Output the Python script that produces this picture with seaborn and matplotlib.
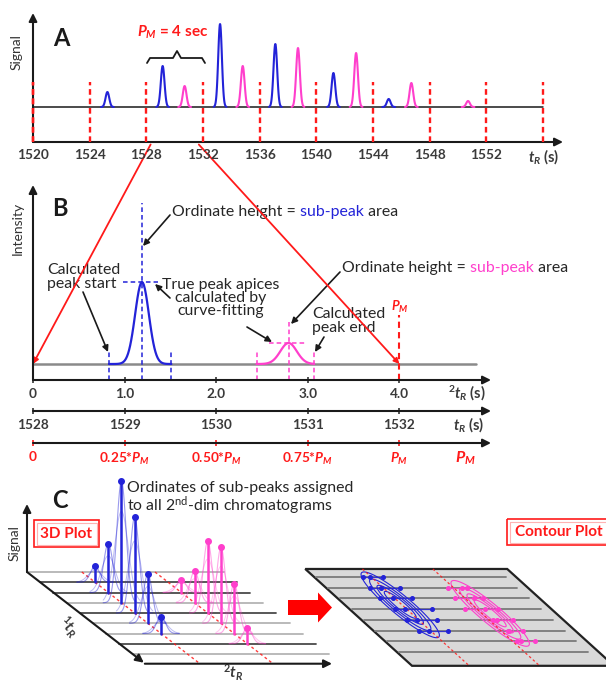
import numpy as np
import pandas as pd
import matplotlib
matplotlib.use("Agg")
import matplotlib.pyplot as plt
import seaborn as sns
from matplotlib.patches import Rectangle, Polygon, FancyArrow
from matplotlib.transforms import Affine2D

# ---------------- data ----------------
# Panel A : raw 1D signal (first-dimension retention time, s)
a_tick_values = [1520, 1524, 1528, 1532, 1536, 1540, 1544, 1548, 1552]
a_modulation_marks = [1520, 1524, 1528, 1532, 1536, 1540, 1544, 1548, 1552, 1556]
a_blue_tr = [1525.25, 1529.15, 1533.2, 1537.1, 1541.2, 1545.1]
a_blue_height = [15, 41, 83, 63, 34, 8]
a_magenta_tr = [1530.7, 1534.8, 1538.7, 1542.8, 1546.7, 1550.7]
a_magenta_height = [21, 41, 59, 54, 24, 6]
a_peak_sigma = 0.13

# Panel B : one modulation period
b_tick_values = [0, 1, 2, 3, 4]
b_tick_labels = ["0", "1.0", "2.0", "3.0", "4.0"]
tr_tick_values = [1528, 1529, 1530, 1531, 1532]
tr_tick_labels = ["1528", "1529", "1530", "1531", "1532"]
pm_tick_values = [0, 0.25, 0.5, 0.75, 1.0]
pm_tick_labels = ["0", r"0.25*$P_M$", r"0.50*$P_M$", r"0.75*$P_M$", r"$P_M$"]
b_apex = [1.19, 2.79]
b_height = [82, 21]
b_start = [0.83, 2.44]
b_end = [1.51, 3.07]
b_sigma = [0.075, 0.09]
b_apex_marker_top = [161, 42]
pm_period = 4.0

# Panel C : 3D plot (2nd-dim chromatograms)
c_n_lines = 9
c_line_colors = ["#b4b4b4", "#4a4a4a", "#4a4a4a", "#b4b4b4", "#4a4a4a",
                 "#b4b4b4", "#b4b4b4", "#4a4a4a", "#b4b4b4"]
c_blue_k = [1, 2, 3, 4, 5, 6]
c_blue_h = [16, 49, 122, 96, 49, 17]
c_magenta_k = [2, 3, 4, 5, 6, 7]
c_magenta_h = [13, 32, 72, 76, 50, 16]
c_blue_t2 = 1.2
c_magenta_t2 = 2.8

# Panel C : contour plot
cc_blue_j = [0, 1, 2, 3, 4, 5]
cc_blue_start = [1.00, 0.90, 0.86, 0.93, 0.94, 0.95]
cc_blue_end = [1.47, 1.58, 1.59, 1.77, 1.62, 1.60]
cc_magenta_j = [1, 2, 3, 4, 5, 6]
cc_magenta_start = [2.68, 2.56, 2.52, 2.89, 2.97, 2.90]
cc_magenta_end = [3.11, 3.20, 3.27, 3.35, 3.31, 3.31]
cc_blue_center = (1.16, 2.6)
cc_magenta_center = (2.99, 3.4)

# ---------------- style ----------------
sns.set_theme(style="white")
plt.rcParams['font.family'] = ['Lato', 'DejaVu Sans']
plt.rcParams['mathtext.fontset'] = 'custom'
plt.rcParams['mathtext.it'] = 'Lato:italic:bold'
plt.rcParams['mathtext.rm'] = 'Lato:bold'
plt.rcParams['mathtext.bf'] = 'Lato:bold'
plt.rcParams['mathtext.sf'] = 'Lato'

BLUE = "#2323d8"
MAG = "#ff3fcc"
RED = "#ff1a1a"
TXT = "#262626"
TICK = "#3a3a3a"
TFS = 9.8   # tick label size

W, H = 606, 683
fig = plt.figure(figsize=(W / 100, H / 100), dpi=100)


def px_axes(x0, y0, x1, y1):
    ax = fig.add_axes([x0 / W, 1 - y1 / H, (x1 - x0) / W, (y1 - y0) / H])
    ax.set_facecolor("none")
    for s in ax.spines.values():
        s.set_visible(False)
    return ax


def ax_arrow(ax, xy0, xy1, color="k", lw=1.5, ms=12):
    ax.annotate("", xy=xy1, xytext=xy0, xycoords="axes fraction",
                arrowprops=dict(arrowstyle="-|>", color=color, lw=lw,
                                mutation_scale=ms, shrinkA=0, shrinkB=0))


# canvas (pixel coordinates) for schematic elements
cv = fig.add_axes([0, 0, 1, 1])
cv.set_xlim(0, W)
cv.set_ylim(H, 0)
cv.axis("off")


def arrow(x1, y1, x2, y2, color="#1a1a1a", lw=1.2, ms=9, z=5):
    cv.annotate("", xy=(x2, y2), xytext=(x1, y1), zorder=z,
                arrowprops=dict(arrowstyle="-|>", color=color, lw=lw,
                                mutation_scale=ms, shrinkA=0, shrinkB=0))


def multicolor(x, y, parts, **kw):
    t = cv.text(x, y, parts[0][0], color=parts[0][1], va="center", ha="left", **kw)
    for s, c in parts[1:]:
        t = cv.annotate(s, xy=(1, 0.5), xycoords=t, va="center", ha="left", color=c, **kw)
    return t


def peak_frame(centers, heights, sigmas, lo, hi, name):
    rows = []
    for i, (c, h, s, a, b) in enumerate(zip(centers, heights, sigmas, lo, hi)):
        t = np.linspace(a, b, 60)
        rows.append(pd.DataFrame({"t": t, "signal": h * np.exp(-0.5 * ((t - c) / s) ** 2),
                                  "compound": name, "peak": f"{name}{i}"}))
    return rows


# ================= Panel A =================
axA = px_axes(33, 13, 563, 142)
axA.plot([a_modulation_marks[0], a_modulation_marks[-1]], [0, 0], color="k", lw=1.1, zorder=2)
nb, nm = len(a_blue_tr), len(a_magenta_tr)
dfA = pd.concat(
    peak_frame(a_blue_tr, a_blue_height, [a_peak_sigma] * nb,
               [c - 0.45 for c in a_blue_tr], [c + 0.45 for c in a_blue_tr], "blue")
    + peak_frame(a_magenta_tr, a_magenta_height, [a_peak_sigma] * nm,
                 [c - 0.45 for c in a_magenta_tr], [c + 0.45 for c in a_magenta_tr], "magenta"))
sns.lineplot(data=dfA, x="t", y="signal", hue="compound", units="peak", estimator=None,
             palette={"blue": BLUE, "magenta": MAG}, lw=1.5, legend=False, sort=False,
             ax=axA, zorder=3)
axA.vlines(a_modulation_marks, -35, 25, colors=RED, linestyles=(0, (2.4, 1.6)), lw=1.7,
           zorder=4, clip_on=False)
axA.set_xlim(1520, 1557.4)
axA.set_ylim(-35, 94)
axA.set_xlabel("")
axA.set_ylabel("")
axA.set_yticks([])
axA.set_xticks(a_tick_values, [str(v) for v in a_tick_values], fontweight="bold")
axA.tick_params(axis="x", length=0, pad=5, labelsize=TFS, labelcolor=TICK)
ax_arrow(axA, (0, 0), (1, 0))
ax_arrow(axA, (0, 0), (0, 1))
axA.vlines([a_modulation_marks[0]], -35, 25, colors=RED, linestyles=(0, (2.4, 1.6)), lw=1.7,
           zorder=6, clip_on=False)

cv.text(544, 157, r"$t_R$ (s)", ha="center", va="center", fontsize=10.5, fontweight="bold", color=TICK)
cv.text(17, 52, "Signal", rotation=90, ha="center", va="center", fontsize=10, color="#333333")
cv.text(61, 38, "A", ha="center", va="center", fontsize=17, fontweight="bold", color="k")
cv.text(173, 32, r"$P_M$ = 4 sec", ha="center", va="center", fontsize=11,
        fontweight="bold", color=RED)
cv.plot([147, 150, 173, 177, 181, 202, 205], [63, 58, 58, 51, 58, 58, 63], color="k", lw=1.3)

# ================= Panel B =================
axB = px_axes(33, 185, 491, 380)
axB.plot([0, 4.84], [0, 0], color="#8a8a8a", lw=1.8, zorder=1)
dfB = pd.concat(peak_frame(b_apex, b_height, b_sigma, b_start, b_end, "blue")[:1]
                + [peak_frame(b_apex, b_height, b_sigma, b_start, b_end, "magenta")[1]])
sns.lineplot(data=dfB, x="t", y="signal", hue="compound", units="peak", estimator=None,
             palette={"blue": BLUE, "magenta": MAG}, lw=1.6, legend=False, sort=False,
             ax=axB, zorder=3)
dash = (0, (3, 2))
for col, ap, h, st, en, top in zip([BLUE, MAG], b_apex, b_height, b_start, b_end, b_apex_marker_top):
    axB.vlines([ap], -16, top, colors=col, linestyles=dash, lw=1.1, zorder=2)
    axB.vlines([st, en], -16, 12, colors=col, linestyles=dash, lw=1.1, zorder=2)
    axB.hlines([h], ap - 0.21, ap + 0.18, colors=col, linestyles=dash, lw=1.1, zorder=2)
axB.vlines([pm_period], -16, 49, colors=RED, linestyles=(0, (3, 2)), lw=1.5, zorder=2)
axB.set_xlim(0, 5.0)
axB.set_ylim(-16, 179)
axB.set_xlabel("")
axB.set_ylabel("")
axB.set_yticks([])
axB.set_xticks(b_tick_values, b_tick_labels, fontweight="bold")
axB.tick_params(axis="x", length=5, width=1.2, direction="inout", pad=3, labelsize=TFS,
                labelcolor=TICK, color="#333333", bottom=True)
ax_arrow(axB, (0, 0), (1, 0))
ax_arrow(axB, (0, 0), (0, 1))

axT = px_axes(33, 401, 491, 411)
axT.set_xlim(1528, 1533)
axT.set_ylim(0, 1)
axT.set_yticks([])
axT.set_xticks(tr_tick_values, tr_tick_labels, fontweight="bold")
axT.tick_params(axis="x", length=5, width=1.2, direction="inout", pad=3, labelsize=TFS,
                labelcolor=TICK, color="#333333", bottom=True)
ax_arrow(axT, (0, 0), (1, 0))

axP = px_axes(33, 433, 491, 443)
axP.set_xlim(0, 5.0 / pm_period)
axP.set_ylim(0, 1)
axP.set_yticks([])
axP.set_xticks(pm_tick_values, pm_tick_labels, fontweight="bold")
axP.tick_params(axis="x", length=5, width=1.2, direction="inout", pad=3, labelsize=TFS,
                labelcolor=RED, color=RED, bottom=True)
ax_arrow(axP, (0, 0), (1, 0))

cv.text(467, 393, r"${}^{2}t_R$ (s)", ha="center", va="center", fontsize=10.5, fontweight="bold", color=TICK)
cv.text(469, 425, r"$t_R$ (s)", ha="center", va="center", fontsize=10.5, fontweight="bold", color=TICK)
cv.text(465, 458, r"$P_M$", ha="center", va="center", fontsize=11.5, fontweight="bold", color=RED)
cv.text(18, 228, "Intensity", rotation=90, ha="center", va="center", fontsize=10, color="#333333")
cv.text(60, 209, "B", ha="center", va="center", fontsize=17, fontweight="bold", color="k")
cv.text(400, 307, r"$P_M$", ha="center", va="center", fontsize=9.5, fontweight="bold", color=RED)

FS = 11.4
multicolor(172, 212, [("Ordinate height =", TXT), (" sub-peak", BLUE), (" area", TXT)], fontsize=FS)
arrow(170, 215, 143, 246)
multicolor(342, 268, [("Ordinate height =", TXT), (" sub-peak", MAG), (" area", TXT)], fontsize=FS)
arrow(340, 272, 291, 324)
cv.text(47, 277, "Calculated\npeak start", ha="left", va="center", fontsize=FS, color=TXT,
        linespacing=1.0)
arrow(83, 292, 108, 352)
cv.text(221, 298, "True peak apices\ncalculated by\ncurve-fitting", ha="center", va="center",
        fontsize=FS, color=TXT, linespacing=0.92)
arrow(170, 298, 155, 284)
arrow(247, 327, 272, 342)
cv.text(312, 321, "Calculated\npeak end", ha="left", va="center", fontsize=FS, color=TXT,
        linespacing=0.95)
arrow(324, 337, 315, 352)

# connecting red lines A -> B (positions taken through the axes' own transforms)
to_cv = cv.transData.inverted()
for xa, xb in [(1528.3, 0.0), (1531.7, pm_period)]:
    p0 = to_cv.transform(axA.transData.transform((xa, -37.5)))
    p1 = to_cv.transform(axB.transData.transform((xb, 0)))
    arrow(p0[0], p0[1], p1[0], p1[1], color=RED, lw=1.3, ms=8, z=6)

# ================= Panel C (3D) =================
def p3(t2, k, s=0.0):
    return 27 + 45.7 * np.asarray(t2) + 13.2 * k, 572 + 10.25 * k - np.asarray(s)


for k in range(c_n_lines):
    x0, y0 = p3(0, k)
    x1, y1 = p3(4.3, k)
    cv.plot([x0, x1], [y0, y1], color=c_line_colors[k], lw=1.3, zorder=1)

for t2 in (c_blue_t2, c_magenta_t2):
    x0, y0 = p3(t2, 0)
    x1, y1 = p3(t2, 8.85)
    cv.plot([x0, x1], [y0, y1], color=RED, lw=1.0, ls=(0, (2, 2)), alpha=0.85, zorder=2)

for ks, hs, t2, col in [(c_blue_k, c_blue_h, c_blue_t2, BLUE), (c_magenta_k, c_magenta_h, c_magenta_t2, MAG)]:
    for k, h in zip(ks, hs):
        tt = np.linspace(t2 - 0.4, t2 + 0.4, 50)
        gx, gy = p3(tt, k, h * np.exp(-0.5 * ((tt - t2) / 0.1) ** 2))
        cv.plot(gx, gy, color=col, lw=0.8, alpha=0.45, zorder=3)
        gx, gy = p3(tt, k, 0.75 * h * np.exp(-0.5 * ((tt - t2) / 0.15) ** 2))
        cv.plot(gx, gy, color=col, lw=0.7, alpha=0.3, zorder=3)
        xb, yb = p3(t2, k)
        cv.plot([xb, xb], [yb, yb - h], color=col, lw=1.8, zorder=4)
        cv.plot([xb], [yb - h], "o", ms=4, color=col, zorder=5)

arrow(27, 572, 27, 504, color="k", lw=1.5, ms=12)
xe, ye = p3(0, 8.85)
arrow(27, 572, xe, ye, color="k", lw=1.5, ms=12)
arrow(xe + 1, ye + 1, 332, ye + 1, color="k", lw=1.5, ms=12)

cv.text(60, 500, "C", ha="center", va="center", fontsize=17, fontweight="bold", color="k")
cv.text(15, 543, "Signal", rotation=90, ha="center", va="center", fontsize=10, color="#333333")
cv.text(68, 627, r"${}^{1}t_R$", rotation=-45, ha="center", va="center", fontsize=11,
        fontweight="bold", color=TICK)
cv.text(233, 673, r"${}^{2}t_R$", ha="center", va="center", fontsize=11, fontweight="bold", color=TICK)
cv.text(127, 499, "Ordinates of sub-peaks assigned\nto all 2$^{\\mathsf{nd}}$-dim chromatograms",
        ha="left", va="center", fontsize=FS, color=TXT, linespacing=0.92)

cv.add_patch(Rectangle((34, 520), 65, 27, fill=False, ec=RED, lw=1.2))
cv.add_patch(Rectangle((36.5, 522.5), 60, 22, fill=False, ec="#ffb3b3", lw=0.8))
cv.text(66.5, 533.5, "3D Plot", ha="center", va="center", fontsize=11, fontweight="bold", color=RED)
cv.add_patch(Rectangle((507, 519), 110, 26, fill=False, ec=RED, lw=1.2))
cv.add_patch(Rectangle((509.5, 521.5), 110, 21, fill=False, ec="#ffb3b3", lw=0.8))
cv.text(559, 532, "Contour Plot", ha="center", va="center", fontsize=11, fontweight="bold", color=RED)

cv.add_patch(FancyArrow(288, 607.5, 44, 0, width=15, head_width=30, head_length=14,
                        length_includes_head=True, color="#ff0000", lw=0))

# ================= Panel C (contour) =================
def pc(t2, j):
    return 318.5 + 44 * np.asarray(t2) + 11.8 * np.asarray(j), 577 + 10.7 * np.asarray(j)


corners = [pc(-0.1, -0.75), pc(4.49, -0.75), pc(4.49, 8.3), pc(-0.1, 8.3)]
cv.add_patch(Polygon([(float(x), float(y)) for x, y in corners], closed=True,
                     fc="#d9d9d9", ec="#222222", lw=1.6, zorder=1))
for j in range(8):
    x0, y0 = pc(-0.05, j)
    x1, y1 = pc(4.25, j)
    cv.plot([x0, x1], [y0, y1], color="#7a7a7a", lw=1.3, zorder=2)
for t2 in (c_blue_t2, c_magenta_t2):
    x0, y0 = pc(t2, -0.75)
    x1, y1 = pc(t2, 8.3)
    cv.plot([x0, x1], [y0, y1], color=RED, lw=0.9, ls=(0, (2, 2)), alpha=0.85, zorder=4)

tr_c = Affine2D.from_values(44, 0, 11.8, 10.7, 318.5, 577) + cv.transData
T2, J = np.meshgrid(np.linspace(0, 4.4, 220), np.linspace(-0.7, 8.2, 220))
for (ct, cj), col in [(cc_blue_center, BLUE), (cc_magenta_center, MAG)]:
    Z = np.exp(-0.5 * ((T2 - ct) / 0.17) ** 2 - 0.5 * ((J - cj) / 1.55) ** 2)
    cv.contour(T2, J, Z, levels=[0.14, 0.3, 0.5, 0.72], colors=[col], linewidths=0.8,
               transform=tr_c, zorder=3)
for js, st, en, ct, col in [(cc_blue_j, cc_blue_start, cc_blue_end, cc_blue_center[0], BLUE),
                            (cc_magenta_j, cc_magenta_start, cc_magenta_end, cc_magenta_center[0], MAG)]:
    for j, a, b in zip(js, st, en):
        xs, ys = pc([a, b], [j, j])
        cv.plot(xs, ys, color=col, lw=0.9, alpha=0.8, zorder=3)
        xm, ym = pc([a, ct, b], [j, j, j])
        cv.plot(xm, ym, "o", ms=2.6, color=col, zorder=4)

fig.savefig("out.png", dpi=100)
